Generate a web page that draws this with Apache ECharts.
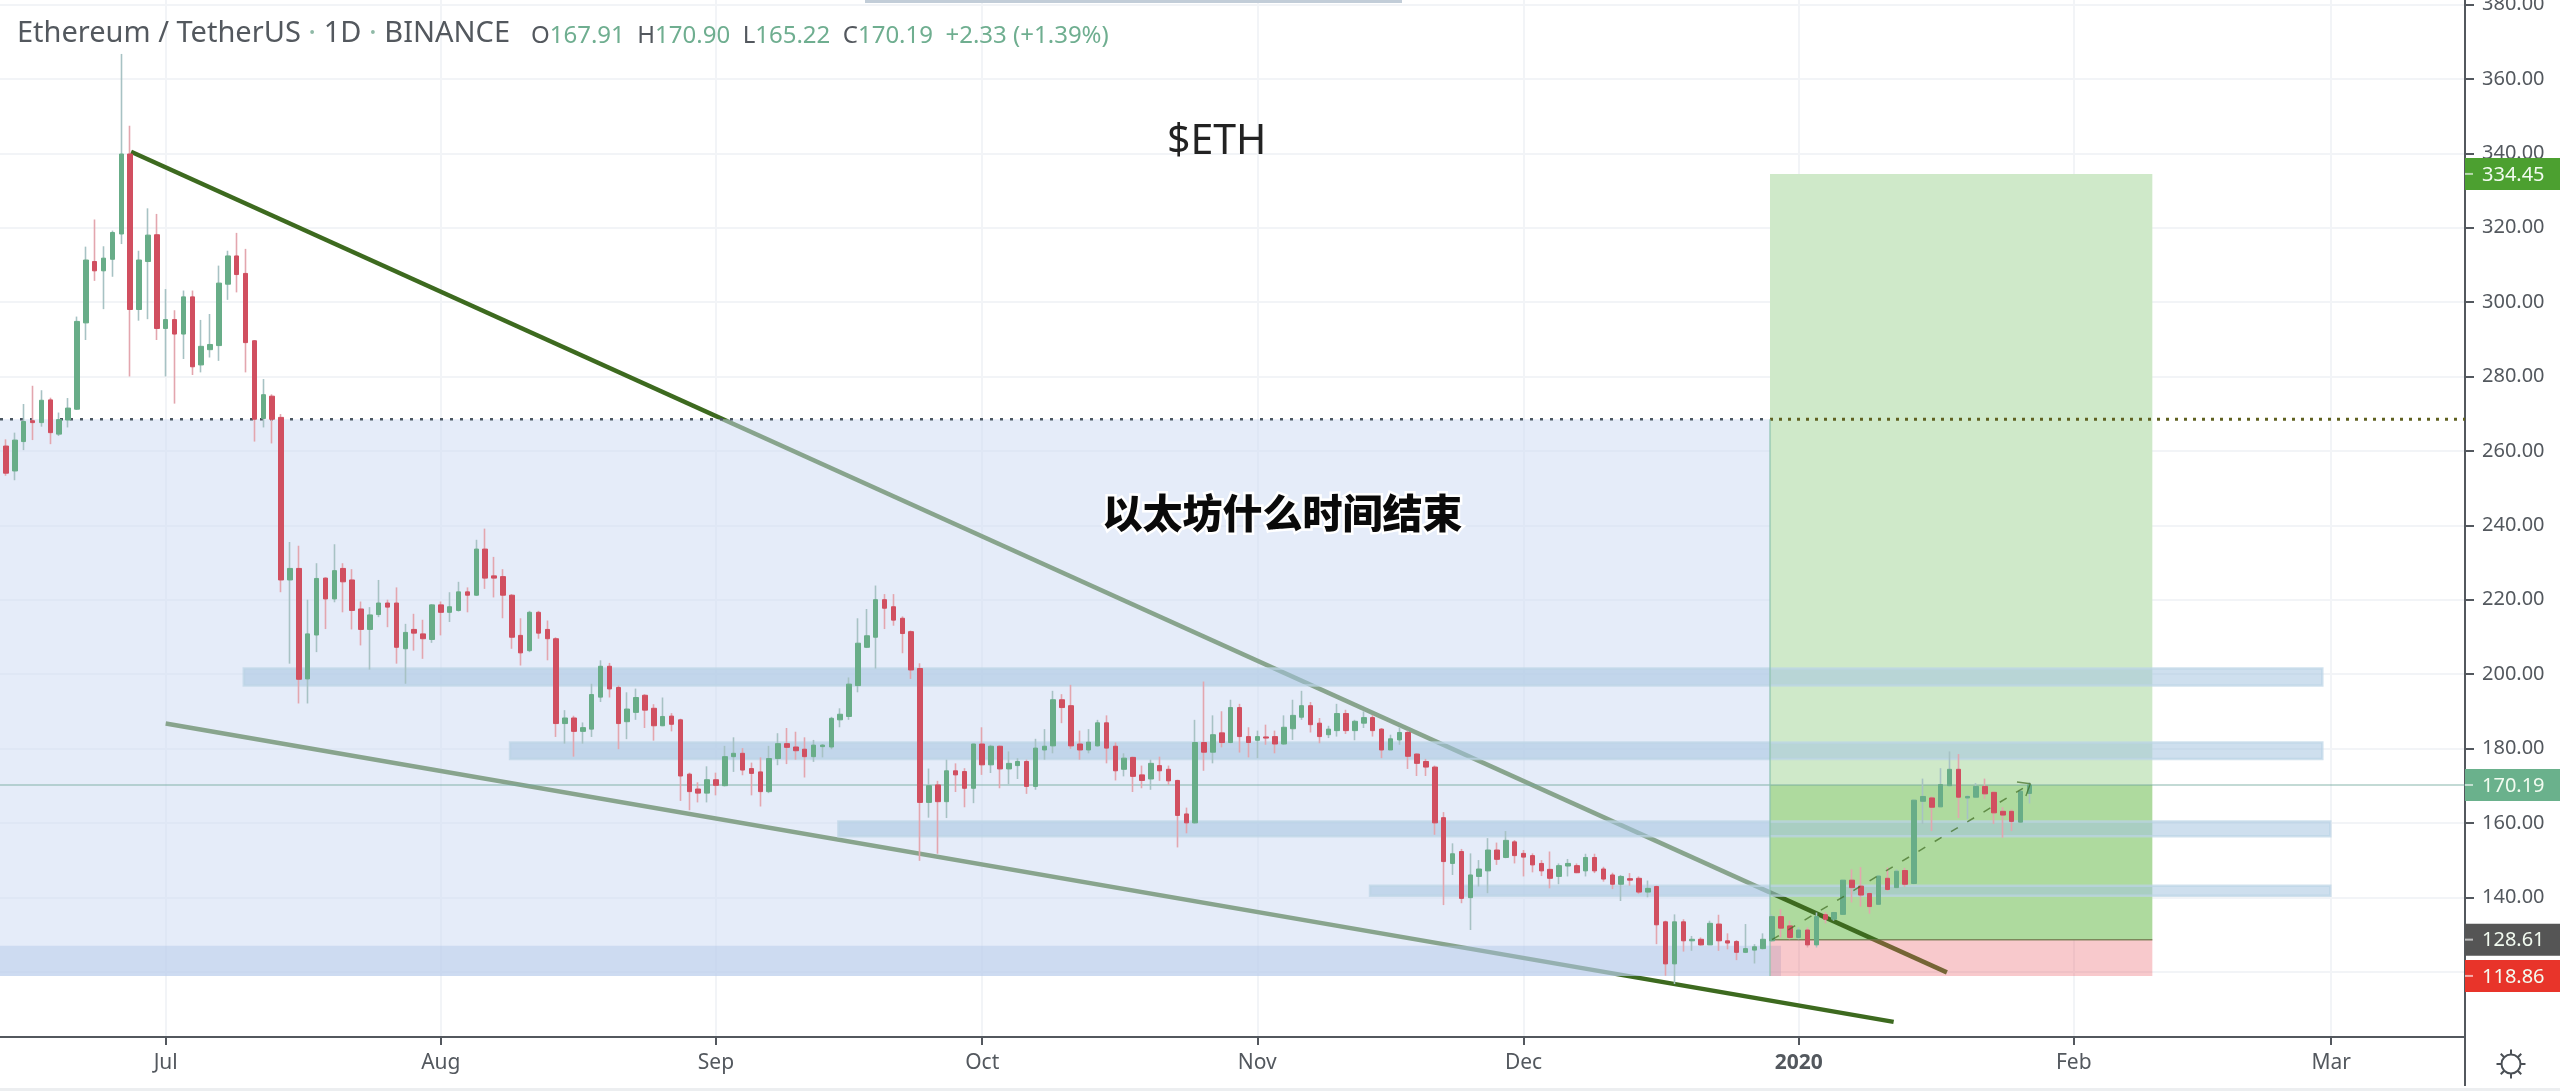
<!DOCTYPE html>
<html><head><meta charset="utf-8">
<style>html,body{margin:0;padding:0;background:#fff}#c{width:2560px;height:1092px}</style>
<script src="https://cdn.jsdelivr.net/npm/echarts@6/dist/echarts.min.js"></script>
</head><body><div id="c"></div>
<script>
// Candles per month, each row is [open, close, low, high]; days count from 1 Jul 2019.
const firstDay = -18;
const june = [[261.3,254,253.3,263.1],[254.6,262.9,252.1,264.9],[262.5,267.9,260.2,272.6],[268.1,267.6,262.9,277.5],[267.6,273.6,266.5,276.3],[273.7,264.9,261.8,274.3],[264.5,268.4,264,270.3],[268.3,271.5,266.3,274.2],[271.2,294.8,271,296.1],[294.4,311.3,289.8,314.9],[310.9,308.4,305.7,322.2],[308.4,311.8,298.1,315],[311.5,318.7,306.8,319.2],[318.3,339.8,315.6,366.7],[339.8,298,280,347.4],[298,311.3,295,313.8],[310.9,318,295.4,325.2],[318.1,292.9,289.8,323.7]];
const july = [[292.9,295.3,280,303.5],[295.3,291.4,272.7,297.8],[291.4,301.4,284.7,303.1],[301.4,282.6,280.4,303.1],[283.1,288.1,281.1,295.2],[287.2,288.6,285.1,296.8],[288.3,305.1,284.2,309.8],[304.8,312.4,300.6,313.8],[312.4,307.4,302.6,318.6],[307.7,289.1,281.1,314.3],[289.6,268.5,262.5,289.8],[268.7,275.1,266.3,279.3],[274.7,268.5,262,275.2],[269,225.3,222,269.9],[225.3,228.4,202.8,235.5],[228.4,198.6,192.1,234.5],[198.7,210.8,192.1,220],[210.5,225.7,205.9,229.8],[225.8,220.2,212.1,226],[220.2,227.8,219.3,234.9],[228.4,224.8,216.6,229.8],[225.3,217.1,212,228.2],[217.5,212,207.7,219.5],[212,215.9,201.2,218],[216,219.1,215.3,225.3],[219.1,218,212.6,220],[219.1,207.2,202.8,223.3],[206.8,211.2,197.4,213.5],[212,211,206.3,216.2],[210.8,209.5,204.1,214.6],[209.3,218.6,208.4,218.8]];
const august = [[218.6,216.6,210.4,219.5],[216.6,218.1,214,222],[217.1,222.1,216.8,224.8],[222.1,221.2,216.6,223.3],[221.2,233.6,221,236.1],[233.6,225.8,222.9,239.1],[226.4,225.8,220.6,231.5],[226.2,221.2,215,228.2],[221.2,209.9,206.8,221.5],[210.4,205.7,202.3,215],[206.3,216.6,205.9,217],[216.6,211,209.5,217],[212,209.5,203.7,214.4],[209.5,186.7,183.1,209.9],[186.7,188.2,181.3,190.3],[188.2,184.6,177.8,188.8],[184.6,185.6,181.3,187],[185.2,194.5,183.1,197.4],[193.8,202.1,192.5,203.7],[202.1,196,193.7,203],[196.4,186.7,179.8,196.9],[187.2,190.6,182.5,195.1],[189.7,193.7,187.7,196.1],[194.3,190.3,185.5,194.6],[190.8,186.1,182.1,191.9],[186.1,188.6,186,193.7],[188.7,186.5,184.6,189.5],[187.7,172.6,165.9,188],[173.1,168.4,163.4,173.5],[169.1,168,165.5,170.9],[168,171.6,165.5,175.2]];
const september = [[171.6,170.1,167.4,173.5],[170,177.8,169.8,180.7],[177.8,178.7,173.7,183],[178.7,174.2,172.8,180.1],[174.6,173.3,167.4,176.2],[173.7,168.4,164.4,177.6],[168.4,177.3,168,180.7],[177.3,181.3,175.5,184.1],[181.3,180.3,175.8,185.5],[180.4,179.4,177,184.5],[179.8,177.8,172.2,183],[177.8,180.9,176.4,182.3],[180.5,180.9,177.6,181.2],[180.4,188.1,179.8,188.5],[187.7,189.2,185.7,190.8],[188.6,197.3,187.7,199.1],[196.9,208.3,195.1,215],[207.2,210.3,207,217.5],[209.9,220,201.5,223.8],[220,217.7,212.1,221.5],[218.1,214.5,213,221.5],[215,210.9,205.6,215.5],[211.4,201.1,198.7,211.7],[201.5,165.5,149.8,202.9],[165.5,170,161.4,174.6],[170.2,165.7,151.7,171.3],[165.7,174,161.3,177],[174,172.9,168.3,176],[173.8,169.3,164.2,174.7],[169.3,181.2,165.3,181.3]];
const october = [[181.2,175.6,172.9,185.7],[175.6,180.6,173.4,181],[180.6,174.5,169.3,180.8],[174.5,176,170.4,179.2],[175.4,176.5,171.8,177.4],[176.5,169.8,167.8,177],[169.8,180.1,168.9,182.6],[179.6,180.6,177,185.2],[180.7,193.1,178.7,195.5],[193.1,191,186.8,194.6],[191.5,180.7,179.9,197.1],[181.2,179.6,177,184.8],[179.6,181.7,178.7,185.2],[180.7,186.9,180.5,187.7],[186.9,180.1,176,188.9],[180.6,174,171.4,181.6],[174.4,177.4,172.5,178.7],[177.6,172.5,168.3,177.8],[172.9,171.4,169.3,175.4],[171.8,176,168.9,177],[175.4,174,171.3,177.8],[174.4,171.3,170.2,175.4],[171.4,162,153.4,171.6],[162.4,160,157.2,164.1],[160,181.6,159.8,187.7],[181.6,179,174,198],[179,183.7,176,188.9],[184.2,181.6,180.3,190],[181.6,191,181.4,193.1],[191,183.2,178.9,192],[183.2,181.6,177.6,185.7]];
const november = [[182.2,183.2,177.4,184.8],[183.1,182.8,181,186.4],[183.2,181.2,178.7,184.8],[181.2,185.7,181,188.9],[185.3,188.9,182.3,193.1],[188.4,191.5,187.7,195.5],[191.5,186.4,184.3,192.5],[186.8,183.2,181.4,188.2],[183.7,185.2,182.8,186.1],[184.8,189.4,183.2,192],[189.4,184.8,183.9,190.4],[184.8,187.3,182.2,187.7],[186.8,188.3,185.5,190],[188.3,184.8,183.2,189],[185.2,179.6,177.4,185.5],[179.6,182.6,179.6,183.7],[182.3,184.3,181,185.7],[184.3,177.9,174.5,184.8],[178.5,176,172.6,178.7],[176.5,175,172.6,177.2],[175,160,156.8,175.4],[161.4,149.6,137.9,162.9],[149.1,151.7,146,154.5],[152.3,139.7,138.4,153],[139.9,146,131.2,151.8],[145.6,147.6,142.9,150],[147.1,152.7,141.1,155.9],[152.7,150.2,148.7,154.7],[150.7,155.3,150.5,157.8],[154.9,151.2,149.1,155.4]];
const december = [[151.8,150.8,145.6,152.7],[151.2,148.7,146.7,151.8],[149.1,147.1,145.7,150],[147.5,145.1,142.4,152.3],[145.6,148.5,143.5,149.1],[148.4,149.1,145.6,150.3],[148.5,146.6,146.5,149.1],[147.1,150.7,145.6,151.7],[150.7,147.1,146.5,151.7],[147.6,144.9,144.2,148.2],[146,143.5,142.2,146.6],[143.5,145.6,139,146],[145,144.6,143.1,146.5],[145.1,141.4,140.9,145.6],[141.4,142.4,140,144.5],[142.9,132.6,127.4,143.1],[133.4,122.1,118.9,133.7],[122.1,133.4,116.7,135.4],[133.4,128.3,125.4,134.1],[128.3,128.7,125.6,129.6],[128.7,127.2,127,129.2],[127.2,133,127.2,133.7],[132.8,128.3,125.6,135.3],[128.3,127.7,126,130.3],[128.1,125.2,123.1,128.5],[125.2,126.2,125,132.8],[125.8,126.7,122.2,127.4],[126.2,128.7,126,130.3],[128.3,134.8,128.1,135.3],[134.8,131.7,129.2,136.8],[132.3,129.2,128.7,133.7]];
const january = [[129.2,131.2,128.7,131.9],[131.2,127.2,126.5,131.9],[127.2,134.8,126.5,135.9],[135.3,134.1,133,136],[134.1,135.9,133.7,136.1],[135.4,144.6,135.3,144.7],[144.6,142.6,138.6,147.5],[143,140.6,137.5,148.1],[141,137.5,135.6,141.3],[138.1,145.7,137.9,145.9],[145.1,142.1,141.7,148],[142.6,147,142.4,147.5],[147.2,143.5,142.8,147.9],[143.7,166.1,143.5,166.3],[165.8,167.1,159.7,171.9],[166.7,164.2,157.8,167.1],[164.3,170.3,164.3,174.7],[170,174.4,169.8,179.2],[174.4,166.9,161.3,178.5],[166.7,167.1,161,167.5],[166.9,169.8,166.7,170.7],[169.8,167.8,166.5,171.9],[168.2,162.7,159.7,168.5],[163.1,162.1,156,164.2],[163.1,160.4,157.8,163.6],[160.2,168.5,160,168.9],[167.91,170.19,165.22,170.9]];

const monthDays = [0,31,62,92,123,153,184,215,244];
const monthLabels = ['Jul','Aug','Sep','Oct','Nov','Dec','2020','Feb','Mar'];
const priceTicks = [120,140,160,180,200,220,240,260,280,300,320,340,360,380];

const priceTags = [334.45,170.19,128.61,118.86];
const tagColors = ['#4ca030','#6ab18c','#555555','#e8342a'];

const TARGET = 334.45, LAST = 170.19, ENTRY = 128.61, STOP = 118.86, RESIST = 268.5;
const dayMin = -18.67, dayMax = 259.08, posStart = 180.77, posEnd = 223.85;

// Zones: [day from, day to, price low, price high]
const profitZone = [[posStart,posEnd,LAST,TARGET]];
const openProfitZone = [[posStart,posEnd,ENTRY,LAST]];
const stopZone = [[posStart,posEnd,STOP,ENTRY]];
const rangeZone = [[dayMin,posStart,STOP,RESIST]];
const baseZone = [[dayMin,182,STOP,127]];
const levelZones = [[8.8,243,196.9,201.5],[38.8,243,177.2,181.6],[75.8,243.9,156.4,160.4],[135.7,243.9,140.4,143.1]];
// Lines: [day, price]
const upperTrend = [[-3.9,340.4],[200.7,119.8]];
const lowerTrend = [[0,186.7],[194.7,106.5]];
const forecastPath = [[181,128.6],[210.1,170.5]];
const forecastHead = [[208.6,171],[210.1,170.5],[209.6,167.2]];

const allCandles = [].concat(june,july,august,september,october,november,december,january);
const wickData = allCandles.map((c,i)=>[firstDay+i,c[0],c[1],c[2],c[3]]);
const bodyData = allCandles.map((c,i)=>[firstDay+i,c[0],c[1],Math.min(c[0],c[1]),Math.max(c[0],c[1])]);

const FONT = '"Noto Sans","Open Sans",sans-serif';
const INK = '#53585e';

function zoneSeries(data, fill, z, border){
  return {type:'custom', data, z, silent:true, clip:true, encode:{x:[0,1],y:[2,3]},
    renderItem(params, api){
      const a = api.coord([api.value(0),api.value(3)]);
      const b = api.coord([api.value(1),api.value(2)]);
      return {type:'rect', shape:{x:a[0],y:a[1],width:b[0]-a[0],height:b[1]-a[1]},
        style:{fill, stroke:border||null, lineWidth:border?2.5:0}};
    }};
}
function lineSeries(data, color, width, z, dash){
  return {type:'line', data, z, silent:true, symbol:'none', showSymbol:false, clip:true, animation:false,
    lineStyle:{color, width, type:dash||'solid', cap:'butt'}, emphasis:{disabled:true}};
}

const chart = echarts.init(document.getElementById('c'), null, {renderer:'canvas'});
chart.setOption({
  animation:false,
  backgroundColor:'#ffffff',
  textStyle:{fontFamily:FONT},
  title:[
    {text:'Ethereum / TetherUS{d| · }1D{d| · }BINANCE', left:12, top:14,
     textStyle:{fontFamily:FONT,fontSize:29,fontWeight:400,color:INK,rich:{d:{fontFamily:FONT,fontSize:29,color:'#8fb9a6'}}}},
    {text:'O{v|167.91}  H{v|170.90}  L{v|165.22}  C{v|170.19}  {v|+2.33 (+1.39%)}', left:526, top:19,
     textStyle:{fontFamily:FONT,fontSize:24,fontWeight:400,color:INK,rich:{v:{fontFamily:FONT,fontSize:24,color:'#6fae90'}}}}
  ],
  grid:{left:0,right:95,top:0,bottom:55,containLabel:false,outerBoundsMode:'none'},
  xAxis:{type:'value',min:dayMin,max:dayMax,position:'bottom',
    axisLine:{show:true,onZero:false,lineStyle:{color:INK,width:2}},
    axisTick:{show:true,customValues:monthDays,length:8,lineStyle:{color:INK,width:2}},
    axisLabel:{show:true,customValues:monthDays,margin:16,fontFamily:FONT,fontSize:21,color:INK,
      formatter:v=>{const s=monthLabels[monthDays.indexOf(v)]||'';return s==='2020'?'{b|2020}':s;},
      rich:{b:{fontFamily:FONT,fontSize:21,fontWeight:700,color:INK}}},
    splitLine:{show:true,lineStyle:{color:'#f2f4f7',width:2}}},
  yAxis:{type:'value',min:102.44,max:381.2,position:'right',scale:true,
    axisLine:{show:true,onZero:false,lineStyle:{color:INK,width:2}},
    axisTick:{show:true,customValues:priceTicks,length:9,lineStyle:{color:INK,width:2}},
    axisLabel:{show:true,customValues:priceTicks,margin:17,padding:[3,0,0,0],fontFamily:FONT,fontSize:20,color:INK,formatter:v=>v.toFixed(2)},
    splitLine:{show:true,lineStyle:{color:'#f2f4f7',width:2}}},
  series:[
    zoneSeries(profitZone,'#cfe9c9',1),
    zoneSeries(openProfitZone,'#aeda9e',1),
    lineSeries(upperTrend,'#3d6a1f',4.5,2),
    lineSeries(lowerTrend,'#3d6a1f',4.5,2),
    zoneSeries(rangeZone,'rgba(205,219,243,0.52)',3),
    zoneSeries(baseZone,'rgba(170,195,230,0.4)',4),
    zoneSeries(levelZones,'rgba(165,197,224,0.55)',4,'rgba(188,212,230,0.7)'),
    zoneSeries(stopZone,'rgba(233,90,100,0.33)',4),
    lineSeries([[dayMin,LAST],[dayMax,LAST]],'rgba(110,165,155,0.55)',1.5,5),
    lineSeries([[posStart,ENTRY],[posEnd,ENTRY]],'rgba(105,115,70,0.8)',1.5,5),
    lineSeries([[dayMin,RESIST],[posStart,RESIST]],'#4a5660',2.5,5,[3,7]),
    lineSeries([[posStart,RESIST],[dayMax,RESIST]],'#5f6020',3,5,[3,6]),
    lineSeries([[posStart,RESIST],[posStart,STOP]],'rgba(140,195,175,0.6)',2,5),
    {type:'candlestick',data:wickData,z:6,silent:true,barWidth:1,encode:{x:0,y:[1,2,3,4]},large:false,
     itemStyle:{color:'#a7c2c4',color0:'#e3a6ae',borderColor:'#a7c2c4',borderColor0:'#e3a6ae',borderWidth:1.6}},
    {type:'candlestick',data:bodyData,z:7,silent:true,barWidth:5,encode:{x:0,y:[1,2,3,4]},large:false,
     itemStyle:{color:'#68ad88',color0:'#d14f60',borderColor:'#68ad88',borderColor0:'#d14f60',borderWidth:1}},
    lineSeries(forecastPath,'rgba(63,107,34,0.7)',1.5,8,[8,11]),
    lineSeries(forecastHead,'rgba(63,107,34,0.7)',1.4,8),
    {type:'custom',z:9,silent:true,clip:false,data:priceTags.map((p,i)=>[dayMax,p,i]),encode:{x:0,y:1},
     renderItem(params, api){
       const pt = api.coord([api.value(0),api.value(1)]);
       const i = api.value(2);
       return {type:'group',children:[
         {type:'rect',shape:{x:pt[0],y:pt[1]-16,width:95,height:32},style:{fill:tagColors[i]}},
         {type:'rect',shape:{x:pt[0],y:pt[1]-1,width:8,height:2},style:{fill:'rgba(255,255,255,0.6)'}},
         {type:'text',style:{text:priceTags[i].toFixed(2),x:pt[0]+17,y:pt[1]+1,fontFamily:FONT,fontSize:20,
           fill:'#f2fbf0',align:'left',verticalAlign:'middle'}}
       ]};
     }}
  ],
  graphic:[
    {type:'text',left:1167,top:122,z:50,style:{text:'$ETH',fontFamily:FONT,fontSize:41,fill:'#222'}},
    {type:'text',left:1100,top:490,z:50,style:{text:'以太坊什么时间结束',fontFamily:'"Noto Sans CJK SC"',fontWeight:900,fontSize:40,fill:'#0a0a0a',stroke:'#ffffff',lineWidth:5}},
    {type:'rect',z:50,shape:{x:865,y:0,width:537,height:3},style:{fill:'#c2cdd8'}},
    {type:'rect',z:50,shape:{x:2464,y:1037,width:2,height:49},style:{fill:INK}},
    {type:'rect',z:50,shape:{x:0,y:1088,width:2560,height:3},style:{fill:'#eceef0'}},
    {type:'circle',z:50,shape:{cx:2511,cy:1064,r:9.5},style:{fill:'none',stroke:'#4a4f55',lineWidth:2}}
  ].concat([0,45,90,135,180,225,270,315].map(a=>{
    const r=a*Math.PI/180;
    return {type:'line',z:50,shape:{x1:2511+10*Math.cos(r),y1:1064+10*Math.sin(r),x2:2511+14.5*Math.cos(r),y2:1064+14.5*Math.sin(r)},style:{stroke:'#4a4f55',lineWidth:2}};
  }))
});
</script></body></html>
